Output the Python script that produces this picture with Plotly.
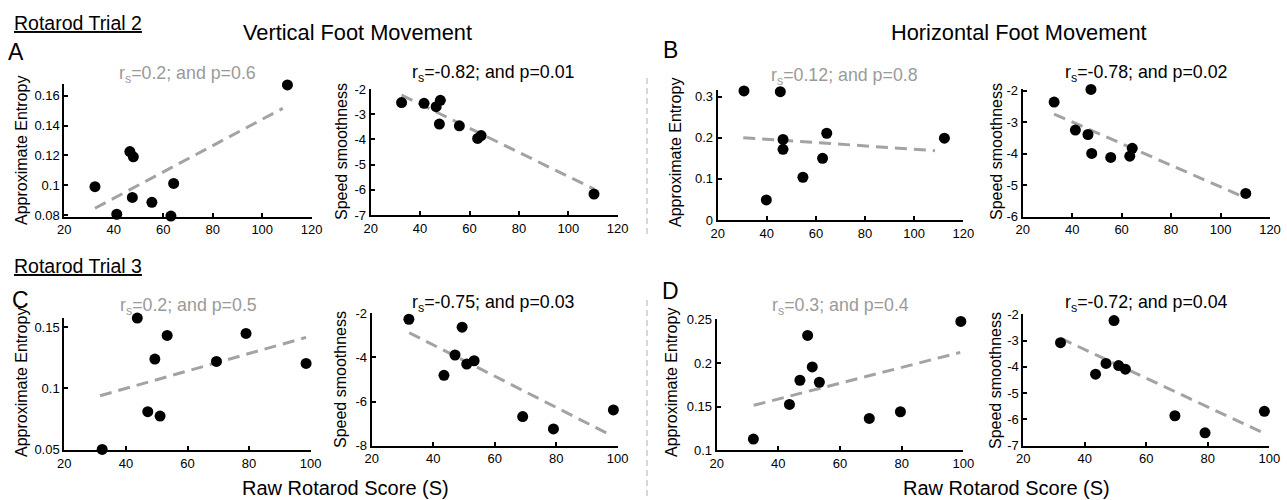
import plotly.graph_objects as go

W, H = 1287, 500
FONT = "Liberation Sans, Arial, sans-serif"

# ---------------- data ----------------
# Rotarod Trial 2 - Vertical foot movement
a_apen_x = [32.4, 41.2, 46.5, 47.9, 47.5, 55.4, 64.2, 63.1, 110.2]
a_apen_y = [0.099, 0.0805, 0.1225, 0.119, 0.0918, 0.0885, 0.1012, 0.0793, 0.1672]
a_apen_fit_x = [32.4, 108.3]
a_apen_fit_y = [0.0845, 0.1515]

a_sm_x = [32.5, 41.6, 46.5, 48.2, 47.8, 55.9, 63.3, 64.7, 110.4]
a_sm_y = [-2.54, -2.57, -2.70, -2.45, -3.39, -3.46, -3.96, -3.85, -6.17]
a_sm_fit_x = [32.5, 110.4]
a_sm_fit_y = [-2.24, -5.97]

# Rotarod Trial 2 - Horizontal foot movement
b_apen_x = [30.7, 45.5, 39.8, 46.6, 46.6, 54.7, 62.7, 64.4, 112.3]
b_apen_y = [0.314, 0.312, 0.0487, 0.196, 0.172, 0.104, 0.150, 0.211, 0.199]
b_apen_fit_x = [30.4, 108.5]
b_apen_fit_y = [0.2003, 0.1687]

b_sm_x = [32.7, 47.6, 41.3, 46.4, 47.9, 55.6, 63.3, 64.3, 110.2]
b_sm_y = [-2.36, -1.96, -3.25, -3.39, -3.99, -4.12, -4.08, -3.83, -5.26]
b_sm_fit_x = [32.7, 108.3]
b_sm_fit_y = [-2.74, -5.34]

# Rotarod Trial 3 - Vertical foot movement
c_apen_x = [32.3, 43.7, 47.1, 49.4, 51.1, 53.4, 69.4, 79.0, 98.5]
c_apen_y = [0.0497, 0.1577, 0.0807, 0.124, 0.0771, 0.1434, 0.122, 0.145, 0.1204]
c_apen_fit_x = [31.6, 98.5]
c_apen_fit_y = [0.0938, 0.1418]

c_sm_x = [32.1, 49.4, 43.5, 47.1, 50.9, 53.3, 69.1, 79.1, 98.6]
c_sm_y = [-2.27, -2.63, -4.81, -3.89, -4.30, -4.15, -6.68, -7.24, -6.38]
c_sm_fit_x = [32.2, 97.0]
c_sm_fit_y = [-2.88, -7.47]

# Rotarod Trial 3 - Horizontal foot movement
d_apen_x = [31.9, 43.6, 47.0, 49.5, 51.0, 53.3, 69.5, 79.6, 99.2]
d_apen_y = [0.1126, 0.1525, 0.1804, 0.2321, 0.1958, 0.1781, 0.1364, 0.1441, 0.2482]
d_apen_fit_x = [32.0, 99.0]
d_apen_fit_y = [0.1515, 0.2125]

d_sm_x = [32.1, 49.5, 43.5, 46.9, 51.0, 53.2, 69.3, 79.1, 98.4]
d_sm_y = [-3.08, -2.24, -4.28, -3.87, -3.95, -4.09, -5.86, -6.51, -5.69]
d_sm_fit_x = [32.1, 98.4]
d_sm_fit_y = [-2.91, -6.53]

stats = ["r<sub>s</sub>=0.2; and p=0.6", "r<sub>s</sub>=-0.82; and p=0.01",
         "r<sub>s</sub>=0.12; and p=0.8", "r<sub>s</sub>=-0.78; and p=0.02",
         "r<sub>s</sub>=0.2; and p=0.5", "r<sub>s</sub>=-0.75; and p=0.03",
         "r<sub>s</sub>=0.3; and p=0.4", "r<sub>s</sub>=-0.72; and p=0.04"]
significant = [False, True, False, True, False, True, False, True]
ytitles = ["Approximate Entropy", "Speed smoothness"] * 4

x_ticks_top = [20, 40, 60, 80, 100, 120]
x_ticks_bot = [20, 40, 60, 80, 100]
yticks = [
    [0.08, 0.1, 0.12, 0.14, 0.16],
    [-7, -6, -5, -4, -3, -2],
    [0, 0.1, 0.2, 0.3],
    [-6, -5, -4, -3, -2],
    [0.05, 0.1, 0.15],
    [-8, -6, -4, -2],
    [0.1, 0.15, 0.2, 0.25],
    [-7, -6, -5, -4, -3, -2],
]

# ---------------- layout geometry (pixels) ----------------
panels = [
    # data x, data y, fit x, fit y, plot box (x0, x1, ytop, ybottom), xrange, yrange
    (a_apen_x, a_apen_y, a_apen_fit_x, a_apen_fit_y, (64.3, 311.7, 85.7, 215), [20, 120], [0.08, 0.1667]),
    (a_sm_x, a_sm_y, a_sm_fit_x, a_sm_fit_y, (370.7, 617.7, 89, 215), [20, 120], [-7, -2]),
    (b_apen_x, b_apen_y, b_apen_fit_x, b_apen_fit_y, (717.7, 963.3, 94.3, 220), [20, 120], [0, 0.3057]),
    (b_sm_x, b_sm_y, b_sm_fit_x, b_sm_fit_y, (1022.7, 1270, 90.7, 216.7), [20, 120], [-6, -2]),
    (c_apen_x, c_apen_y, c_apen_fit_x, c_apen_fit_y, (64.3, 310.7, 319, 450), [20, 100], [0.0492, 0.1569]),
    (c_sm_x, c_sm_y, c_sm_fit_x, c_sm_fit_y, (371.7, 617.7, 313.3, 445.7), [20, 100], [-8, -2]),
    (d_apen_x, d_apen_y, d_apen_fit_x, d_apen_fit_y, (716.7, 963.3, 319, 450), [20, 100], [0.1, 0.251]),
    (d_sm_x, d_sm_y, d_sm_fit_x, d_sm_fit_y, (1023.3, 1269.3, 314.3, 445.7), [20, 100], [-7, -2]),
]
stat_pos = [(187, 74), (494, 73), (844, 76), (1146, 73), (188, 306), (494, 303), (840, 306), (1146, 303)]
ytitle_pos = [(21, 151), (341, 152), (675, 153), (996, 152), (21, 383), (340, 380), (671, 383), (995, 380)]


def px(x):
    return x / W


def py(y):
    return 1 - y / H


fig = go.Figure()
layout = {}
annotations = []
for i, (dx, dy, fx, fy, box, xr, yr) in enumerate(panels):
    n = "" if i == 0 else str(i + 1)
    xa, ya = "x" + n, "y" + n
    fig.add_trace(go.Scatter(x=fx, y=fy, mode="lines", xaxis=xa, yaxis=ya,
                             line=dict(color="#a3a3a3", width=3, dash="12px,7px"),
                             showlegend=False, hoverinfo="skip", cliponaxis=False))
    fig.add_trace(go.Scatter(x=dx, y=dy, mode="markers", xaxis=xa, yaxis=ya,
                             marker=dict(color="black", size=11, line=dict(width=0)),
                             showlegend=False, cliponaxis=False))
    x0, x1, yt, yb = box
    # extend the y range just enough to keep every point inside it (plotly hides
    # points that fall outside the range); keep the same pixel scale
    scale = (yb - yt) / (yr[1] - yr[0])
    pad = 0.5 / scale
    lo = min(yr[0], min(dy) - pad)
    hi = max(yr[1], max(dy) + pad)
    yb2 = yb + (yr[0] - lo) * scale
    yt2 = yt - (hi - yr[1]) * scale
    xt = x_ticks_top if i < 4 else x_ticks_bot
    common = dict(showgrid=False, zeroline=False, showline=True, linecolor="black",
                  linewidth=2, ticks="inside", ticklen=4, tickwidth=1.5, tickcolor="black",
                  automargin=False,
                  tickfont=dict(family=FONT, size=13, color="black"), fixedrange=True)
    layout["xaxis" + n] = dict(domain=[px(x0), px(x1)], range=xr, anchor=ya,
                               tickvals=xt, ticktext=[str(v) for v in xt], **common)
    layout["yaxis" + n] = dict(domain=[py(yb2), py(yt2)], range=[lo, hi], anchor=xa,
                               tickvals=yticks[i],
                               ticktext=[("%g" % v) for v in yticks[i]], **common)
    sx, sy = stat_pos[i]
    annotations.append(dict(x=px(sx), y=py(sy), xref="paper", yref="paper", text=stats[i],
                            showarrow=False, xanchor="center", yanchor="middle",
                            font=dict(family=FONT, size=17.8,
                                      color="black" if significant[i] else "#9a9a9a")))
    tx, ty = ytitle_pos[i]
    annotations.append(dict(x=px(tx), y=py(ty), xref="paper", yref="paper", text=ytitles[i],
                            showarrow=False, textangle=-90, xanchor="center", yanchor="middle",
                            font=dict(family=FONT, size=16, color="black")))

# headings / labels
labels = [
    ("<u>Rotarod Trial 2</u>", 12, 23, 19.5, "left"),
    ("<u>Rotarod Trial 3</u>", 12, 266, 19.5, "left"),
    ("Vertical Foot Movement", 357, 32, 21.8, "center"),
    ("Horizontal Foot Movement", 1019, 32, 21.8, "center"),
    ("A", 16, 52, 23, "center"),
    ("B", 670, 50, 23, "center"),
    ("C", 20, 300, 23, "center"),
    ("D", 670, 291, 23, "center"),
    ("Raw Rotarod Score (S)", 345, 488, 20, "center"),
    ("Raw Rotarod Score (S)", 1006, 488, 20, "center"),
]
for text, x, y, size, anchor in labels:
    annotations.append(dict(x=px(x), y=py(y), xref="paper", yref="paper", text=text,
                            showarrow=False, xanchor=anchor, yanchor="middle",
                            font=dict(family=FONT, size=size, color="black")))

shapes = [
    dict(type="line", xref="paper", yref="paper", x0=px(647), x1=px(647), y0=py(78), y1=py(235),
         line=dict(color="#b0b0b0", width=1, dash="6px,4px")),
    dict(type="line", xref="paper", yref="paper", x0=px(647), x1=px(647), y0=py(300), y1=py(500),
         line=dict(color="#b0b0b0", width=1, dash="6px,4px")),
]

fig.update_layout(width=W, height=H, margin=dict(l=0, r=0, t=0, b=0, pad=0),
                  template="none",
                  paper_bgcolor="white", plot_bgcolor="white",
                  annotations=annotations, shapes=shapes,
                  font=dict(family=FONT, color="black"), **layout)
fig.write_html("out.html", config={"displayModeBar": False},
               post_script="document.body.style.margin='0';")
